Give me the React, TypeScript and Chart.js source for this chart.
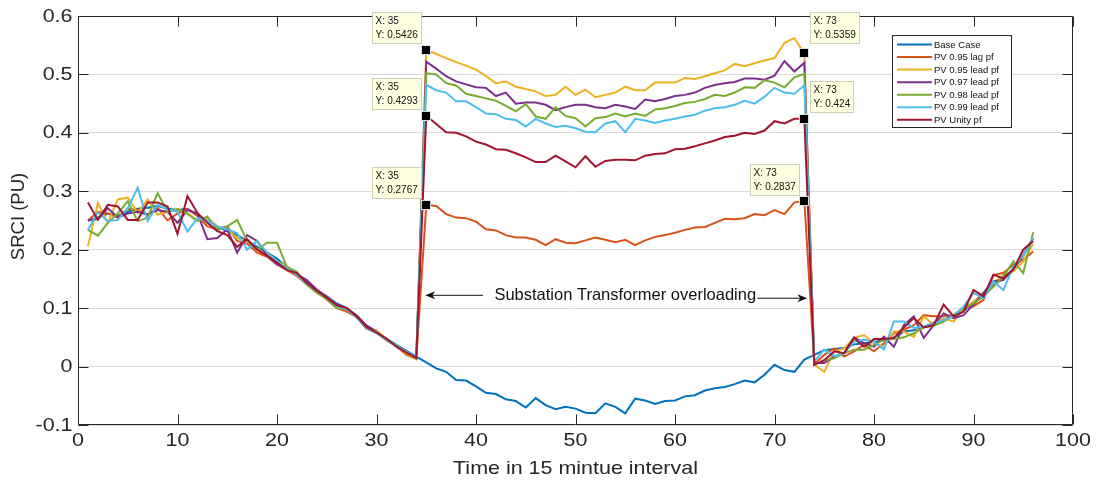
import React, { useEffect, useRef } from "react";
import { Chart, registerables } from "chart.js";

Chart.register(...registerables);

// ---------- data ----------
const intervals = [
  1, 2, 3, 4, 5, 6, 7, 8, 9, 10, 11, 12, 13, 14, 15, 16, 17, 18, 19, 20, 21, 22, 23, 24,
  25, 26, 27, 28, 29, 30, 31, 32, 33, 34, 35, 36, 37, 38, 39, 40, 41, 42, 43, 44, 45, 46, 47, 48,
  49, 50, 51, 52, 53, 54, 55, 56, 57, 58, 59, 60, 61, 62, 63, 64, 65, 66, 67, 68, 69, 70, 71, 72,
  73, 74, 75, 76, 77, 78, 79, 80, 81, 82, 83, 84, 85, 86, 87, 88, 89, 90, 91, 92, 93, 94, 95, 96,
];

const baseCase = [
  0.25, 0.255, 0.262, 0.258, 0.265, 0.27, 0.272, 0.275, 0.27, 0.268, 0.27, 0.26, 0.25, 0.24, 0.232, 0.225, 0.215,
  0.205, 0.195, 0.185, 0.17, 0.16, 0.145, 0.13, 0.12, 0.108, 0.1, 0.085, 0.07, 0.06, 0.048, 0.037, 0.027, 0.017,
  0.007, -0.003, -0.009, -0.023, -0.024, -0.034, -0.045, -0.047, -0.056, -0.059, -0.07, -0.054, -0.066, -0.073,
  -0.069, -0.072, -0.079, -0.08, -0.063, -0.069, -0.08, -0.055, -0.058, -0.064, -0.059, -0.058, -0.051, -0.049,
  -0.041, -0.037, -0.035, -0.03, -0.024, -0.027, -0.014, 0.003, -0.006, -0.009, 0.012,
  0.02, 0.028, 0.03, 0.032, 0.038, 0.04, 0.042, 0.045, 0.05, 0.06, 0.062, 0.068, 0.075, 0.08, 0.088, 0.095, 0.11,
  0.12, 0.14, 0.15, 0.165, 0.19, 0.22,
];

const pv095Lag = [
  0.25, 0.265, 0.262, 0.255, 0.27, 0.268, 0.26, 0.272, 0.25, 0.262, 0.27, 0.258, 0.24, 0.235, 0.24, 0.215, 0.21,
  0.195, 0.188, 0.175, 0.165, 0.155, 0.14, 0.128, 0.115, 0.1, 0.094, 0.085, 0.065, 0.058, 0.045, 0.035, 0.02, 0.013,
  0.2767, 0.275, 0.261, 0.255, 0.254, 0.248, 0.235, 0.233, 0.225, 0.221, 0.221, 0.217, 0.208, 0.218, 0.212, 0.211,
  0.216, 0.221, 0.217, 0.213, 0.217, 0.208, 0.216, 0.222, 0.225, 0.229, 0.234, 0.238, 0.239, 0.246, 0.253, 0.252,
  0.254, 0.261, 0.259, 0.268, 0.261, 0.281, 0.2837,
  0.005, 0.02, 0.031, 0.017, 0.026, 0.037, 0.026, 0.04, 0.057, 0.063, 0.071, 0.088, 0.086, 0.086, 0.088, 0.1, 0.103,
  0.114, 0.157, 0.16, 0.174, 0.183, 0.197,
];

const pv095Lead = [
  0.206, 0.28, 0.246, 0.286, 0.289, 0.263, 0.286, 0.26, 0.265, 0.27, 0.262, 0.25, 0.255, 0.24, 0.235, 0.22, 0.215,
  0.2, 0.195, 0.18, 0.172, 0.158, 0.14, 0.128, 0.118, 0.105, 0.098, 0.083, 0.068, 0.062, 0.047, 0.035, 0.022, 0.013,
  0.5426, 0.535, 0.528, 0.521, 0.515, 0.508, 0.497, 0.485, 0.488, 0.479, 0.475, 0.471, 0.463, 0.465, 0.479, 0.465,
  0.474, 0.461, 0.465, 0.469, 0.479, 0.473, 0.473, 0.486, 0.486, 0.486, 0.494, 0.492, 0.497, 0.502, 0.507, 0.518,
  0.514, 0.519, 0.524, 0.528, 0.554, 0.562, 0.5359,
  0.003, -0.009, 0.026, 0.031, 0.049, 0.054, 0.04, 0.034, 0.06, 0.06, 0.051, 0.086, 0.071, 0.083, 0.077, 0.1, 0.111,
  0.126, 0.143, 0.157, 0.163, 0.18, 0.21,
];

const pv097Lead = [
  0.25, 0.253, 0.271, 0.255, 0.262, 0.265, 0.26, 0.268, 0.265, 0.246, 0.268, 0.262, 0.218, 0.22, 0.235, 0.195, 0.225,
  0.215, 0.19, 0.175, 0.168, 0.158, 0.148, 0.132, 0.12, 0.106, 0.1, 0.088, 0.07, 0.06, 0.046, 0.035, 0.025, 0.015,
  0.522, 0.51, 0.497, 0.488, 0.483, 0.478, 0.477, 0.463, 0.469, 0.45, 0.452, 0.452, 0.448, 0.439, 0.444, 0.448,
  0.448, 0.444, 0.442, 0.448, 0.445, 0.441, 0.457, 0.454, 0.458, 0.463, 0.465, 0.469, 0.477, 0.482, 0.485, 0.487,
  0.493, 0.493, 0.491, 0.498, 0.523, 0.505, 0.52,
  0.006, 0.006, 0.017, 0.023, 0.05, 0.04, 0.034, 0.051, 0.034, 0.071, 0.086, 0.049, 0.071, 0.091, 0.083, 0.088, 0.106,
  0.126, 0.146, 0.148, 0.168, 0.19, 0.22,
];

const pv098Lead = [
  0.234, 0.224, 0.246, 0.262, 0.283, 0.249, 0.255, 0.297, 0.265, 0.269, 0.262, 0.249, 0.257, 0.234, 0.24, 0.251, 0.215,
  0.2, 0.212, 0.212, 0.17, 0.162, 0.14, 0.126, 0.116, 0.1, 0.098, 0.085, 0.065, 0.06, 0.045, 0.036, 0.025, 0.014,
  0.502, 0.5, 0.485, 0.481, 0.467, 0.463, 0.459, 0.455, 0.446, 0.437, 0.449, 0.428, 0.424, 0.444, 0.429, 0.425,
  0.411, 0.425, 0.427, 0.433, 0.428, 0.433, 0.429, 0.44, 0.442, 0.446, 0.451, 0.453, 0.458, 0.465, 0.463, 0.469,
  0.478, 0.477, 0.49, 0.486, 0.478, 0.495, 0.501,
  0.003, 0.011, 0.014, 0.023, 0.029, 0.029, 0.037, 0.046, 0.047, 0.05, 0.057, 0.067, 0.07, 0.077, 0.088, 0.1, 0.108,
  0.12, 0.137, 0.154, 0.18, 0.16, 0.23,
];

const pv099Lead = [
  0.234, 0.264, 0.249, 0.251, 0.271, 0.306, 0.249, 0.277, 0.269, 0.265, 0.231, 0.254, 0.25, 0.24, 0.235, 0.228, 0.2,
  0.215, 0.195, 0.18, 0.168, 0.157, 0.142, 0.13, 0.118, 0.104, 0.098, 0.084, 0.066, 0.057, 0.047, 0.035, 0.025, 0.016,
  0.482, 0.473, 0.469, 0.454, 0.454, 0.444, 0.433, 0.432, 0.424, 0.422, 0.411, 0.424, 0.416, 0.41, 0.412, 0.408,
  0.402, 0.401, 0.416, 0.42, 0.401, 0.424, 0.421, 0.417, 0.421, 0.424, 0.428, 0.431, 0.438, 0.442, 0.444, 0.448,
  0.455, 0.45, 0.462, 0.477, 0.469, 0.467, 0.481,
  0.009, 0.029, 0.018, 0.023, 0.043, 0.046, 0.043, 0.029, 0.077, 0.077, 0.066, 0.068, 0.074, 0.08, 0.086, 0.103, 0.126,
  0.117, 0.146, 0.131, 0.171, 0.19, 0.22,
];

const pvUnity = [
  0.281, 0.251, 0.277, 0.274, 0.251, 0.251, 0.281, 0.281, 0.274, 0.227, 0.292, 0.263, 0.246, 0.232, 0.225, 0.205, 0.218,
  0.2, 0.19, 0.178, 0.165, 0.16, 0.143, 0.13, 0.118, 0.105, 0.1, 0.086, 0.068, 0.058, 0.048, 0.034, 0.024, 0.015,
  0.4293, 0.415, 0.401, 0.4, 0.394, 0.385, 0.38, 0.372, 0.371, 0.365, 0.358, 0.35, 0.35, 0.361, 0.351, 0.341,
  0.36, 0.342, 0.352, 0.354, 0.354, 0.353, 0.361, 0.364, 0.365, 0.372, 0.373, 0.377, 0.382, 0.387, 0.393, 0.395,
  0.4, 0.398, 0.404, 0.42, 0.416, 0.424, 0.424,
  0.003, 0.011, 0.026, 0.023, 0.049, 0.034, 0.047, 0.047, 0.049, 0.067, 0.083, 0.067, 0.071, 0.106, 0.086, 0.094, 0.131,
  0.12, 0.157, 0.151, 0.166, 0.2, 0.215,
];

const seriesNames = [
  "Base Case",
  "PV 0.95 lag pf",
  "PV 0.95 lead pf",
  "PV 0.97 lead pf",
  "PV 0.98 lead pf",
  "PV 0.99 lead pf",
  "PV Unity pf",
];
const seriesValues = [baseCase, pv095Lag, pv095Lead, pv097Lead, pv098Lead, pv099Lead, pvUnity];

const xTicks = [0, 10, 20, 30, 40, 50, 60, 70, 80, 90, 100];
const xTickLabels = ["0", "10", "20", "30", "40", "50", "60", "70", "80", "90", "100"];
const yTicks = [-0.1, 0, 0.1, 0.2, 0.3, 0.4, 0.5, 0.6];
const yTickLabels = ["-0.1", "0", "0.1", "0.2", "0.3", "0.4", "0.5", "0.6"];

const xTitle = "Time in 15 mintue interval";
const yTitle = "SRCI (PU)";

// data tips: series index, x value, side of the box
const dataTips = [
  { series: 2, x: 35, side: "left", gap: 6 },
  { series: 6, x: 35, side: "left", gap: 6 },
  { series: 1, x: 35, side: "left", gap: 6 },
  { series: 2, x: 73, side: "right", gap: 9 },
  { series: 6, x: 73, side: "right", gap: 6 },
  { series: 1, x: 73, side: "left", gap: 5 },
];

const annotationText = "Substation Transformer overloading";

// ---------- styles ----------
const colors = ["#0072BD", "#D95319", "#EDB120", "#7E2F8E", "#77AC30", "#4DBEEE", "#A2142F"];
const FONT = '"Liberation Sans", Arial, Helvetica, sans-serif';
const AXIS_COLOR = "#262626";
const STRETCH = 1.16;

const overlayPlugin = {
  id: "matlabOverlay",
  afterDatasetsDraw(chart: any) {
    const { ctx, chartArea: a, scales } = chart;
    const xs = scales.x;
    const ys = scales.y;
    ctx.save();

    // axes box with inward ticks
    const L = Math.round(a.left) + 0.5;
    const R = Math.round(a.right) - 0.5;
    const T = Math.round(a.top) + 0.5;
    const B = Math.round(a.bottom) - 0.5;
    ctx.strokeStyle = AXIS_COLOR;
    ctx.lineWidth = 1;
    ctx.beginPath();
    ctx.rect(L, T, R - L, B - T);
    const tl = 10;
    xTicks.forEach((v) => {
      const px = Math.round(xs.getPixelForValue(v)) + 0.5;
      ctx.moveTo(px, B);
      ctx.lineTo(px, B - tl);
      ctx.moveTo(px, T);
      ctx.lineTo(px, T + tl);
    });
    yTicks.forEach((v) => {
      const py = Math.round(ys.getPixelForValue(v)) + 0.5;
      ctx.moveTo(L, py);
      ctx.lineTo(L + tl, py);
      ctx.moveTo(R, py);
      ctx.lineTo(R - tl, py);
    });
    ctx.stroke();

    // tick labels and titles
    const stretched = (text: string, x: number, y: number, align: string, size: number) => {
      ctx.save();
      ctx.translate(x, y);
      ctx.scale(STRETCH, 1);
      ctx.font = `${size}px ${FONT}`;
      ctx.textAlign = align;
      ctx.textBaseline = "middle";
      ctx.fillStyle = AXIS_COLOR;
      ctx.fillText(text, 0, 0);
      ctx.restore();
    };
    yTicks.forEach((v, i) => {
      stretched(yTickLabels[i], a.left - 5.5, ys.getPixelForValue(v) + 0.5, "right", 18.5);
    });
    xTicks.forEach((v, i) => {
      stretched(xTickLabels[i], xs.getPixelForValue(v), a.bottom + 16, "center", 18.5);
    });
    stretched(xTitle, (a.left + a.right) / 2, a.bottom + 44, "center", 18.5);
    ctx.save();
    ctx.translate(18.5, (a.top + a.bottom) / 2 - 4);
    ctx.rotate(-Math.PI / 2);
    ctx.font = `18.5px ${FONT}`;
    ctx.textAlign = "center";
    ctx.textBaseline = "middle";
    ctx.fillStyle = AXIS_COLOR;
    ctx.fillText(yTitle, 0, 0);
    ctx.restore();

    // annotation: text with arrows
    const textX = xs.getPixelForValue(55);
    const textY = ys.getPixelForValue(0.1217);
    ctx.fillStyle = "#111";
    ctx.font = `16.5px ${FONT}`;
    ctx.textAlign = "center";
    ctx.textBaseline = "middle";
    ctx.fillText(annotationText, textX, textY);

    const drawArrow = (x0: number, y0: number, x1: number, y1: number) => {
      const ax0 = xs.getPixelForValue(x0);
      const ay0 = ys.getPixelForValue(y0);
      const ax1 = xs.getPixelForValue(x1);
      const ay1 = ys.getPixelForValue(y1);
      const dir = Math.sign(ax1 - ax0);
      ctx.strokeStyle = "#111";
      ctx.lineWidth = 1;
      ctx.beginPath();
      ctx.moveTo(ax0, ay0);
      ctx.lineTo(ax1 - dir * 6, ay1);
      ctx.stroke();
      ctx.fillStyle = "#111";
      ctx.beginPath();
      ctx.moveTo(ax1, ay1);
      ctx.lineTo(ax1 - dir * 10, ay1 - 4);
      ctx.lineTo(ax1 - dir * 7, ay1);
      ctx.lineTo(ax1 - dir * 10, ay1 + 4);
      ctx.closePath();
      ctx.fill();
    };
    drawArrow(40.7, 0.122, 34.9, 0.122);
    drawArrow(68.3, 0.117, 73.3, 0.117);

    // data tips
    ctx.font = `10px ${FONT}`;
    dataTips.forEach((tip) => {
      const idx = intervals.indexOf(tip.x);
      const val = seriesValues[tip.series][idx];
      const mx = xs.getPixelForValue(tip.x);
      const my = ys.getPixelForValue(val);
      const l1 = `X: ${tip.x}`;
      const l2 = `Y: ${String(val)}`;
      const w = Math.ceil(Math.max(ctx.measureText(l1).width, ctx.measureText(l2).width)) + 7;
      const h = 32;
      const bx = tip.side === "left" ? Math.round(mx - 4 - w) : Math.round(mx + 6);
      const by = Math.round(my - tip.gap - h);
      ctx.fillStyle = "#FFFFE1";
      ctx.fillRect(bx, by, w, h);
      ctx.strokeStyle = "#CFCFB8";
      ctx.lineWidth = 1;
      ctx.strokeRect(bx + 0.5, by + 0.5, w - 1, h - 1);
      ctx.fillStyle = "#111";
      ctx.textAlign = "left";
      ctx.textBaseline = "middle";
      ctx.fillText(l1, bx + 3.5, by + 9);
      ctx.fillText(l2, bx + 3.5, by + 23);
      ctx.fillStyle = "#000";
      ctx.fillRect(Math.round(mx) - 4, Math.round(my) - 4, 8, 8);
      ctx.strokeStyle = "#ddd";
      ctx.strokeRect(Math.round(mx) - 4.5, Math.round(my) - 4.5, 9, 9);
    });

    // legend
    const lw = 120;
    const lh = 93;
    const lx = Math.round(a.right - 61 - lw);
    const ly = Math.round(a.top + 19);
    ctx.fillStyle = "#fff";
    ctx.fillRect(lx, ly, lw, lh);
    ctx.strokeStyle = AXIS_COLOR;
    ctx.lineWidth = 1;
    ctx.strokeRect(lx + 0.5, ly + 0.5, lw - 1, lh - 1);
    ctx.font = `9.5px ${FONT}`;
    ctx.textAlign = "left";
    ctx.textBaseline = "middle";
    seriesNames.forEach((name, i) => {
      const ry = ly + 9.5 + i * 12.55;
      ctx.strokeStyle = colors[i];
      ctx.lineWidth = 2;
      ctx.beginPath();
      ctx.moveTo(lx + 5, ry);
      ctx.lineTo(lx + 40, ry);
      ctx.stroke();
      ctx.fillStyle = "#111";
      ctx.fillText(name, lx + 42, ry + 0.5);
    });

    ctx.restore();
  },
};

export default function App() {
  const canvasRef = useRef<HTMLCanvasElement | null>(null);

  useEffect(() => {
    const canvas = canvasRef.current;
    if (!canvas) return;
    const datasets = seriesValues.map((vals, i) => ({
      label: seriesNames[i],
      data: intervals.map((x, k) => ({ x, y: vals[k] })),
      borderColor: colors[i],
      backgroundColor: colors[i],
      borderWidth: 2,
      pointRadius: 0,
      tension: 0,
      fill: false,
      order: seriesValues.length - 1 - i,
    }));

    const chart = new Chart(canvas, {
      type: "line",
      data: { datasets },
      plugins: [overlayPlugin],
      options: {
        animation: false,
        responsive: false,
        maintainAspectRatio: false,
        devicePixelRatio: 1,
        layout: { padding: { top: 16, right: 26, left: 0, bottom: 0 } },
        plugins: {
          legend: { display: false },
          tooltip: { enabled: false },
        },
        events: [],
        scales: {
          x: {
            type: "linear",
            min: 0,
            max: 100,
            afterBuildTicks: (s: any) => {
              s.ticks = xTicks.map((v) => ({ value: v }));
            },
            ticks: { display: false },
            grid: { display: false, drawTicks: false },
            border: { display: false },
            title: { display: false },
            afterFit: (s: any) => {
              s.height = 62;
            },
          },
          y: {
            type: "linear",
            min: -0.1,
            max: 0.6,
            afterBuildTicks: (s: any) => {
              s.ticks = yTicks.map((v) => ({ value: v }));
            },
            ticks: { display: false },
            grid: { color: "#DCDCDC", lineWidth: 1, drawTicks: false },
            border: { display: false },
            title: { display: false },
            afterFit: (s: any) => {
              s.width = 78;
            },
          },
        },
      },
    });
    return () => chart.destroy();
  }, []);

  return (
    <div style={{ position: "absolute", left: 0, top: 0, width: 1099, height: 487, background: "#fff" }}>
      <canvas ref={canvasRef} width={1099} height={487} style={{ display: "block", width: 1099, height: 487 }} />
    </div>
  );
}
